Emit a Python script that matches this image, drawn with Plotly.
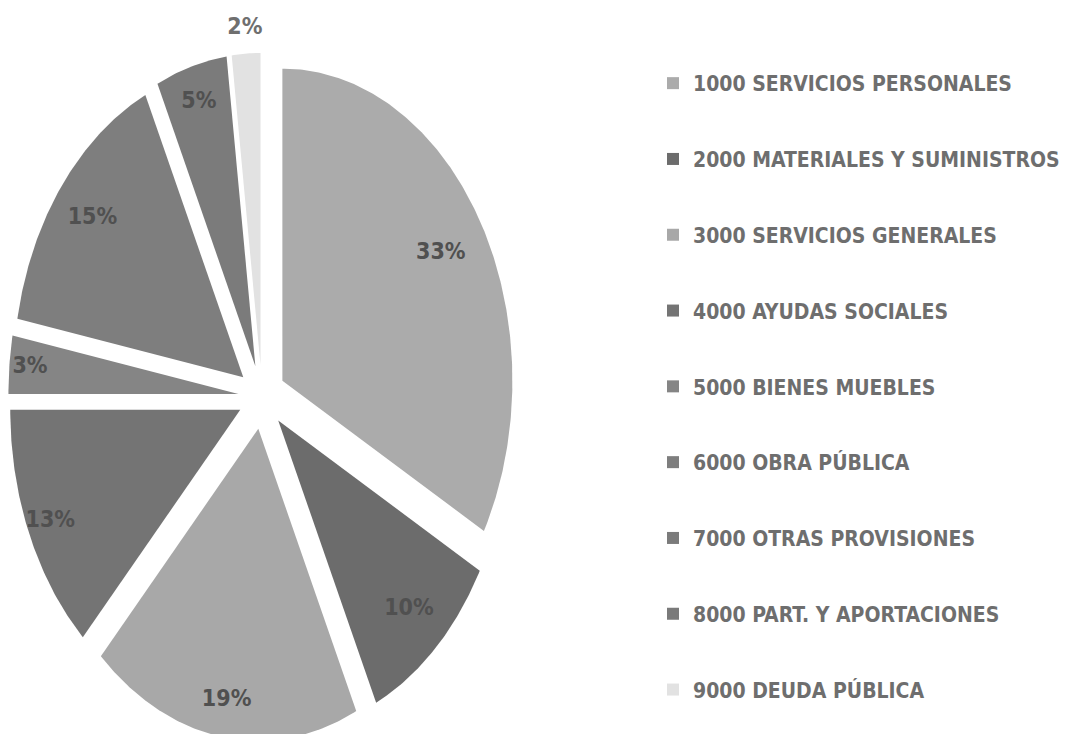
import numpy as np
import plotly.graph_objects as go

categories = [
    "1000 SERVICIOS PERSONALES",
    "2000 MATERIALES Y SUMINISTROS",
    "3000 SERVICIOS GENERALES",
    "4000 AYUDAS SOCIALES",
    "5000 BIENES MUEBLES",
    "6000 OBRA PÚBLICA",
    "7000 OTRAS PROVISIONES",
    "8000 PART. Y APORTACIONES",
    "9000 DEUDA PÚBLICA",
]
values = [33, 10, 19, 13, 3, 15, 5, 0, 2]

# styles
colors = ["#ababab", "#6c6c6c", "#a8a8a8", "#747474", "#858585",
          "#7e7e7e", "#7b7b7b", "#7a7a7a", "#e2e2e2"]
label_radius = [0.80, 0.83, 0.88, 0.90, 0.91, 0.83, 0.88, 0.9, 1.08]
explode = 0.103
FONT = "DejaVu Sans Condensed, Liberation Sans Narrow, Arial Narrow, sans-serif"

total = float(sum(values))
fig = go.Figure()

start = 0.0
label_x, label_y, label_t, label_c = [], [], [], []
for i, (cat, v) in enumerate(zip(categories, values)):
    span = 360.0 * v / total
    end = start + span
    mid = np.radians(start + span / 2)
    ox, oy = explode * np.sin(mid), explode * np.cos(mid)
    if v > 0:
        th = np.radians(np.linspace(start, end, max(int(span * 2), 4)))
        xs = np.concatenate([[ox], ox + np.sin(th), [ox]])
        ys = np.concatenate([[oy], oy + np.cos(th), [oy]])
        fig.add_trace(go.Scatter(
            x=xs, y=ys, mode="lines", fill="toself",
            fillcolor=colors[i], line=dict(width=0, color=colors[i]),
            showlegend=False, hoverinfo="skip"))
        r = label_radius[i]
        label_x.append(ox + r * np.sin(mid))
        label_y.append(oy + r * np.cos(mid))
        label_t.append(f"{v}%")
        label_c.append("#6f6f6f" if r > 1 else "#505050")
    # legend entry
    fig.add_trace(go.Scatter(
        x=[None], y=[None], mode="markers", name=cat,
        legendgroup=f"g{i}",
        marker=dict(symbol="square", size=13, color=colors[i])))
    start = end

fig.add_trace(go.Scatter(
    x=label_x, y=label_y, mode="text", text=label_t,
    textfont=dict(family=FONT, size=23, color=label_c, weight="bold"),
    showlegend=False, hoverinfo="skip"))

# page has an 8px body margin; figure sized to fit the window
W, H = 1065, 726
sx, sy = 230.0, 312.0
cx, cy = 254.0, 389.0
x0 = -cx / sx
y1 = cy / sy
fig.update_layout(
    width=W, height=H,
    margin=dict(l=0, r=0, t=0, b=0),
    paper_bgcolor="white", plot_bgcolor="white",
    xaxis=dict(range=[x0, x0 + W / sx], visible=False, fixedrange=True),
    yaxis=dict(range=[y1 - H / sy, y1], visible=False, fixedrange=True),
    showlegend=True,
    legend=dict(
        x=645 / W, y=1 - 55 / H, xanchor="left", yanchor="top",
        font=dict(family=FONT, size=21, color="#6e6e6e", weight="bold"),
        tracegroupgap=45.5, itemsizing="constant",
        bgcolor="rgba(0,0,0,0)"),
)

fig.write_html("out.html")
